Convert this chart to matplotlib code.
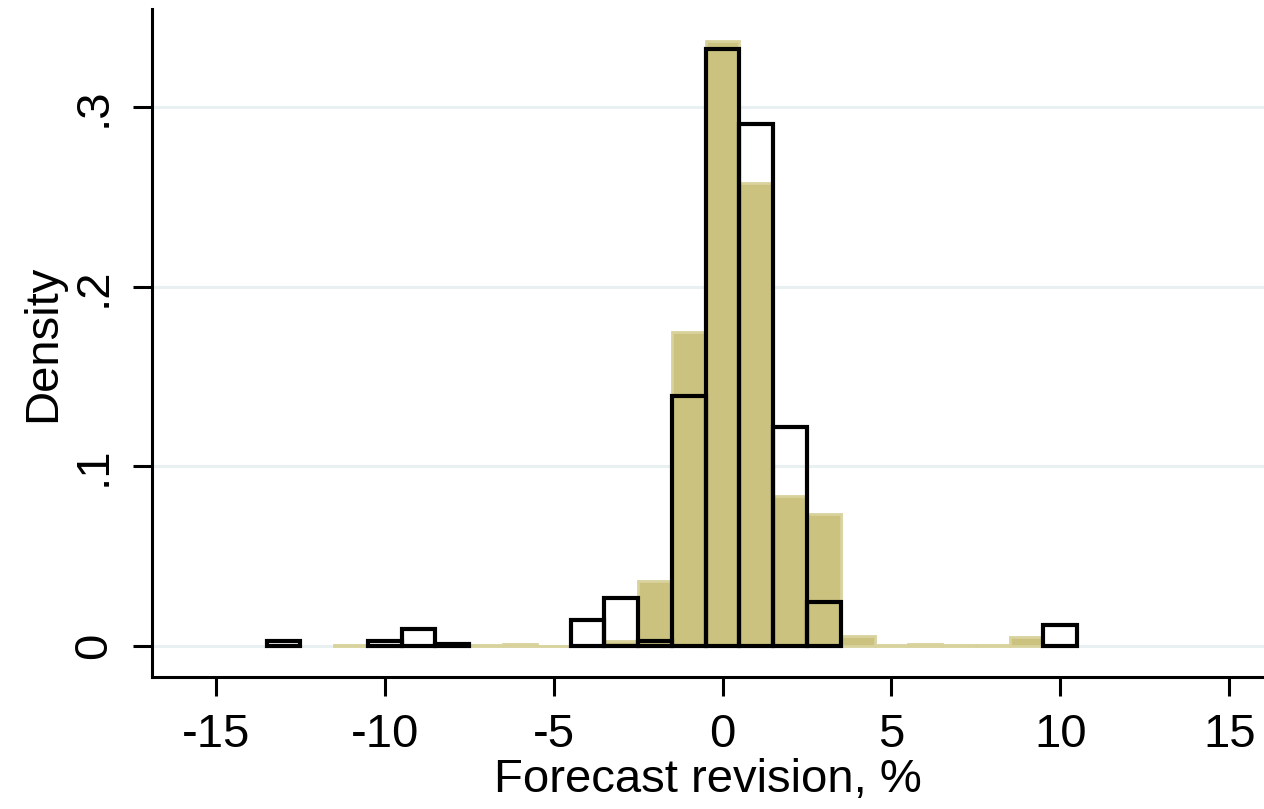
import numpy as np
import matplotlib.pyplot as plt

plt.rcParams['font.family'] = ['Liberation Sans', 'DejaVu Sans']

# histogram bins (width 1, centred on integers)
bins = np.arange(-13, 11)

# filled histogram, density per bin
dens_fill = [0.0, 0.0, 0.0005, 0.0005, 0.0005, 0.0005, 0.0004, 0.0008, 0.0002,
             0.0005, 0.003, 0.036, 0.175, 0.337, 0.258, 0.0835, 0.0735, 0.0056,
             0.0005, 0.001, 0.0004, 0.0004, 0.005, 0.0]

# outlined histogram, density per bin
dens_outline = [0.003, 0.0, 0.0, 0.003, 0.0097, 0.001, 0.0, 0.0, 0.0,
                0.0145, 0.0267, 0.003, 0.139, 0.3325, 0.2907, 0.122, 0.0242, 0.0,
                0.0, 0.0, 0.0, 0.0, 0.0, 0.0117]

yticks = [0, 0.1, 0.2, 0.3]
ytick_labels = ['0', '.1', '.2', '.3']
xticks = [-15, -10, -5, 0, 5, 10, 15]

fig = plt.figure(figsize=(12.64, 8.09), dpi=100)
ax = fig.add_axes([0.1203, 0.1632, 0.8797, 0.8257])

for y in yticks:
    ax.axhline(y, color='#e8f0f2', lw=2.2, zorder=0)

bins_f = [b for b, d in zip(bins, dens_fill) if d > 0]
vals_f = [d for d in dens_fill if d > 0]
ax.bar(bins_f, vals_f, width=1, color='#cac27e', edgecolor='#d8d29c',
       linewidth=2.0, zorder=2)

bins_o = [b for b, d in zip(bins, dens_outline) if d > 0]
vals_o = [d for d in dens_outline if d > 0]
ax.bar(bins_o, vals_o, width=1, facecolor='none', edgecolor='black',
       linewidth=3.0, zorder=3)

ax.set_xlim(-16.89, 16.03)
ax.set_ylim(-0.0173, 0.3548)

ax.set_xticks(xticks)
ax.set_xticklabels([str(t) for t in xticks])
ax.set_yticks(yticks)
ax.set_yticklabels(ytick_labels, rotation=90, va='center')

for s in ['top', 'right']:
    ax.spines[s].set_visible(False)
for s in ['left', 'bottom']:
    ax.spines[s].set_linewidth(2.2)

ax.tick_params(axis='both', direction='out', length=14, width=2.2,
               labelsize=34, pad=12)
ax.set_xlabel('Forecast revision, %', fontsize=34, labelpad=1)
ax.set_ylabel('Density', fontsize=34, labelpad=5)

fig.savefig('out.png', dpi=100)
